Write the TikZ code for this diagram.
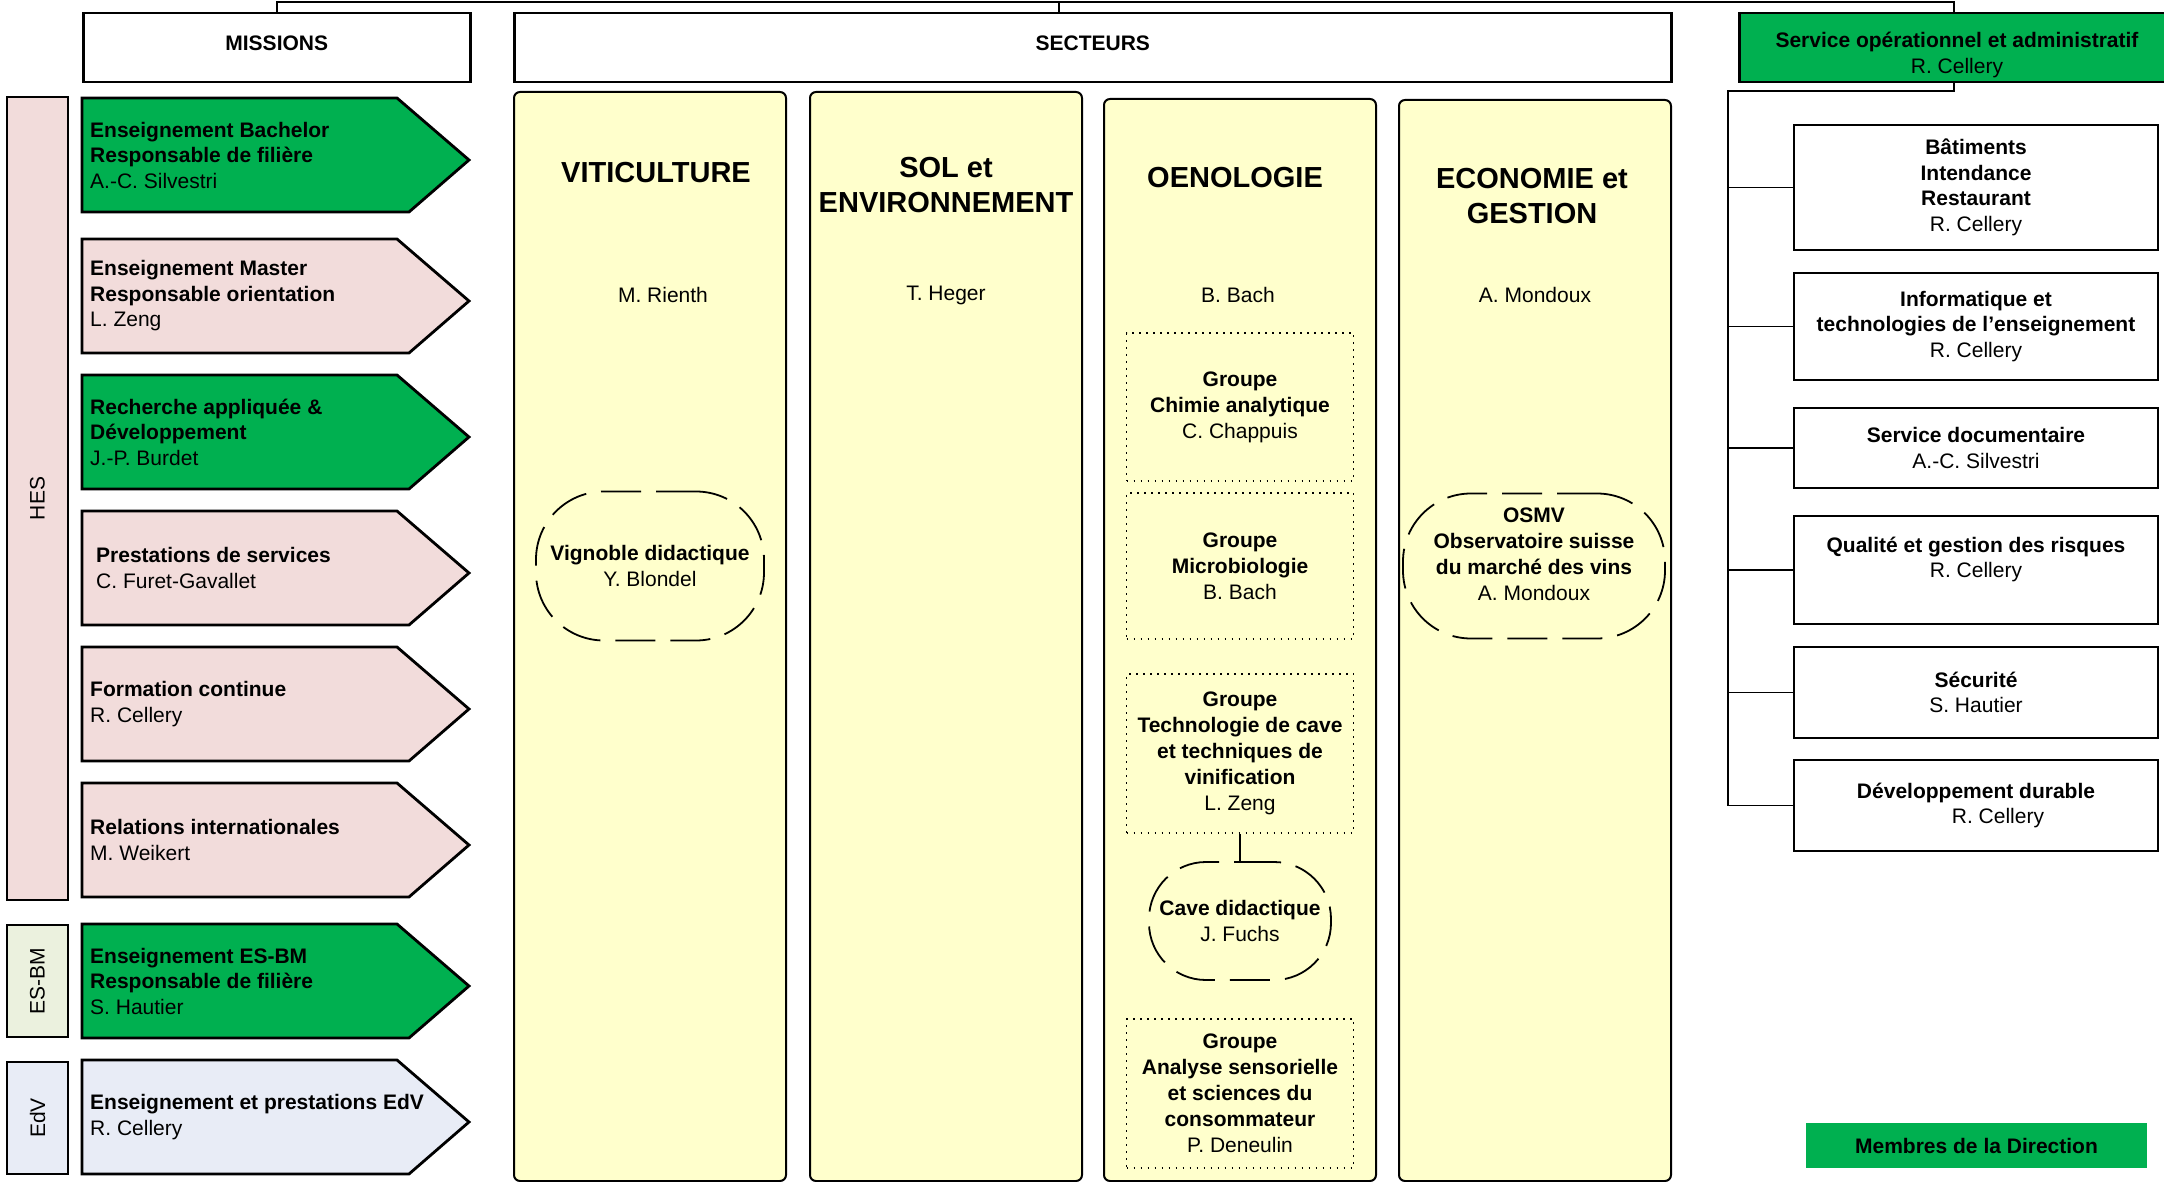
\documentclass[tikz,border=0pt]{standalone}
\usepackage{fontspec}
\setmainfont{Liberation Sans}
\usepackage{tikz}
\usetikzlibrary{positioning}
\definecolor{dirgreen}{RGB}{0,176,80}
\definecolor{hespink}{RGB}{242,220,219}
\definecolor{esbmgreen}{RGB}{235,241,222}
\definecolor{edvblue}{RGB}{232,236,246}
\definecolor{secyellow}{RGB}{255,255,204}
\tikzset{
    txt/.style={font=\fontsize{21}{25.5}\selectfont},
    stxt/.style={font=\fontsize{21}{26}\selectfont, align=center},
    ttl/.style={font=\fontsize{29}{35}\selectfont\bfseries, align=center},
    hdr/.style={draw, line width=2.5pt, fill=white, anchor=north west, text depth=9pt, font=\fontsize{21}{25.5}\selectfont\bfseries},
    mis/.style={draw, line width=2.8pt},
    mtxt/.style={txt, anchor=west, align=left, inner sep=0pt},
    bar/.style={draw, line width=2.5pt},
    col/.style={draw, line width=2pt, fill=secyellow, rounded corners=6pt, anchor=north west},
    grp/.style={draw, line width=1.6pt, dash pattern=on 1.6pt off 5.4pt, minimum width=227pt},
    rnd/.style={draw, line width=1.8pt, dash pattern=on 40pt off 15pt, rounded corners=68pt},
    rbox/.style={draw, line width=2.7pt, fill=white, minimum width=364pt, txt, align=center},
    link/.style={line width=1.6pt}
}
\begin{document}
\begin{tikzpicture}[x=1pt,y=-1pt]
    \useasboundingbox (0,0) rectangle (2164,1182);
    \node[hdr, minimum width=387pt, minimum height=69pt] (mis) at (82,12) {MISSIONS};
    \node[hdr, minimum width=1157pt, minimum height=69pt] (sec) at (513,12) {SECTEURS};
    \node[hdr, fill=dirgreen, minimum width=430pt, minimum height=69pt] (sop) at (1738,12) {};
    \node[txt, align=center] (sopt) at (1957,55) {\textbf{Service opérationnel et administratif}\\R. Cellery};
    \coordinate (top) at (1059,2);
    \draw[link] (mis.north) |- (top) -| (sop.north);
    \draw[link] (top) -- (top |- sec.north);
    \filldraw[bar, fill=hespink] (7,97) rectangle (68,900);
    \node[txt, rotate=90] (hes) at (37.5,498.5) {HES};
    \filldraw[bar, fill=esbmgreen] (7,925) rectangle (68,1037);
    \node[txt, rotate=90] (esbm) at (37.5,981) {ES-BM};
    \filldraw[bar, fill=edvblue] (7,1062) rectangle (68,1174);
    \node[txt, rotate=90] (edv) at (37.5,1118) {EdV};
    \filldraw[mis, fill=dirgreen] (82,98) -- (397,98) -- (469,160) -- (409,212) -- (82,212) -- cycle;
    \node[mtxt] (bach) at (90,155) {\textbf{Enseignement Bachelor}\\\textbf{Responsable de filière}\\A.-C. Silvestri};
    \filldraw[mis, fill=hespink] (82,239) -- (397,239) -- (469,301) -- (409,353) -- (82,353) -- cycle;
    \node[mtxt] (mast) at (90,296) {\textbf{Enseignement Master}\\\textbf{Responsable orientation}\\L. Zeng};
    \filldraw[mis, fill=dirgreen] (82,375) -- (397,375) -- (469,437) -- (409,489) -- (82,489) -- cycle;
    \node[mtxt] (rad) at (90,432) {\textbf{Recherche appliquée \&}\\\textbf{Développement}\\J.-P. Burdet};
    \filldraw[mis, fill=hespink] (82,511) -- (397,511) -- (469,573) -- (409,625) -- (82,625) -- cycle;
    \node[mtxt] (prest) at (96,568) {\textbf{Prestations de services}\\C. Furet-Gavallet};
    \filldraw[mis, fill=hespink] (82,647) -- (397,647) -- (469,709) -- (409,761) -- (82,761) -- cycle;
    \node[mtxt] (form) at (90,704) {\textbf{Formation continue}\\R. Cellery};
    \filldraw[mis, fill=hespink] (82,783) -- (397,783) -- (469,845) -- (409,897) -- (82,897) -- cycle;
    \node[mtxt] (rel) at (90,840) {\textbf{Relations internationales}\\M. Weikert};
    \filldraw[mis, fill=dirgreen] (82,924) -- (397,924) -- (469,986) -- (409,1038) -- (82,1038) -- cycle;
    \node[mtxt] (esbmt) at (90,981) {\textbf{Enseignement ES-BM}\\\textbf{Responsable de filière}\\S. Hautier};
    \filldraw[mis, fill=edvblue] (82,1060) -- (397,1060) -- (469,1122) -- (409,1174) -- (82,1174) -- cycle;
    \node[mtxt] (edvt) at (90,1117) {\textbf{Enseignement et prestations EdV}\\R. Cellery};
    \node[col, minimum width=272pt, minimum height=1089pt] (viti) at (513,91) {};
    \node[col, minimum width=272pt, minimum height=1089pt] (sol) at (809,91) {};
    \node[col, minimum width=272pt, minimum height=1082pt] (oeno) at (1103,98) {};
    \node[col, minimum width=272pt, minimum height=1081pt] (eco) at (1398,99) {};
    \node[ttl] (vitit) at (656,173) {VITICULTURE};
    \node[ttl] (solt) at (946,185) {SOL et\\ENVIRONNEMENT};
    \node[ttl] (oenot) at (1235,178) {OENOLOGIE};
    \node[ttl] (ecot) at (1532,196) {ECONOMIE et\\GESTION};
    \node[stxt] (vitin) at (663,295) {M. Rienth};
    \node[stxt] (soln) at (946,295) {T. Heger};
    \node[stxt] (oenon) at (1238,295) {B. Bach};
    \node[stxt] (econ) at (1535,295) {A. Mondoux};
    \node[rnd, stxt, minimum width=228pt, minimum height=149pt] (vig) at (650,566) {\textbf{Vignoble didactique}\\Y. Blondel};
    \node[grp, stxt, minimum height=148pt] (g1) at (1240,407) {\textbf{Groupe}\\\textbf{Chimie analytique}\\C. Chappuis};
    \node[grp, stxt, minimum height=146pt] (g2) at (1240,566) {\textbf{Groupe}\\\textbf{Microbiologie}\\B. Bach};
    \node[grp, stxt, minimum height=159pt] (g3) at (1240,753.5) {\textbf{Groupe}\\\textbf{Technologie de cave}\\\textbf{et techniques de}\\\textbf{vinification}\\L. Zeng};
    \node[rnd, stxt, minimum width=182pt, minimum height=118pt, rounded corners=57pt] (cave) at (1240,921) {\textbf{Cave didactique}\\J. Fuchs};
    \draw[link] (g3.south) -- (cave.north);
    \node[grp, stxt, minimum height=149pt] (g4) at (1240,1093.5) {\textbf{Groupe}\\\textbf{Analyse sensorielle}\\\textbf{et sciences du}\\\textbf{consommateur}\\P. Deneulin};
    \node[rnd, minimum width=262pt, minimum height=145pt] (osmv) at (1534,566) {};
    \node[stxt] (osmvt) at (1534,554) {\textbf{OSMV}\\\textbf{Observatoire suisse}\\\textbf{du marché des vins}\\A. Mondoux};
    \node[rbox, minimum height=125pt] (bat) at (1976,187.5) {\textbf{Bâtiments}\\\textbf{Intendance}\\\textbf{Restaurant}\\R. Cellery};
    \node[rbox, minimum height=107pt] (info) at (1976,326.5) {\textbf{Informatique et}\\\textbf{technologies de l’enseignement}\\R. Cellery};
    \node[rbox, minimum height=80pt] (doc) at (1976,448) {\textbf{Service documentaire}\\A.-C. Silvestri};
    \node[rbox, minimum height=108pt] (qual) at (1976,570) {\textbf{Qualité et gestion des risques}\\R. Cellery\\\mbox{}};
    \node[rbox, minimum height=91pt] (secu) at (1976,692.5) {\textbf{Sécurité}\\S. Hautier};
    \node[rbox, minimum height=91pt] (dd) at (1976,805.5) {\textbf{Développement durable}\\\hspace*{44pt}R. Cellery};
    \coordinate (bus) at (1728,91);
    \draw[link] (sop.south) |- (bus) -- (bus |- dd.west) -- (dd.west);
    \draw[link] (bus |- bat.west) -- (bat.west);
    \draw[link] (bus |- info.west) -- (info.west);
    \draw[link] (bus |- doc.west) -- (doc.west);
    \draw[link] (bus |- qual.west) -- (qual.west);
    \draw[link] (bus |- secu.west) -- (secu.west);
    \node[fill=dirgreen, minimum width=341pt, minimum height=45pt, txt] (memb) at (1976.5,1145.5) {\textbf{Membres de la Direction}};
\end{tikzpicture}
\end{document}
